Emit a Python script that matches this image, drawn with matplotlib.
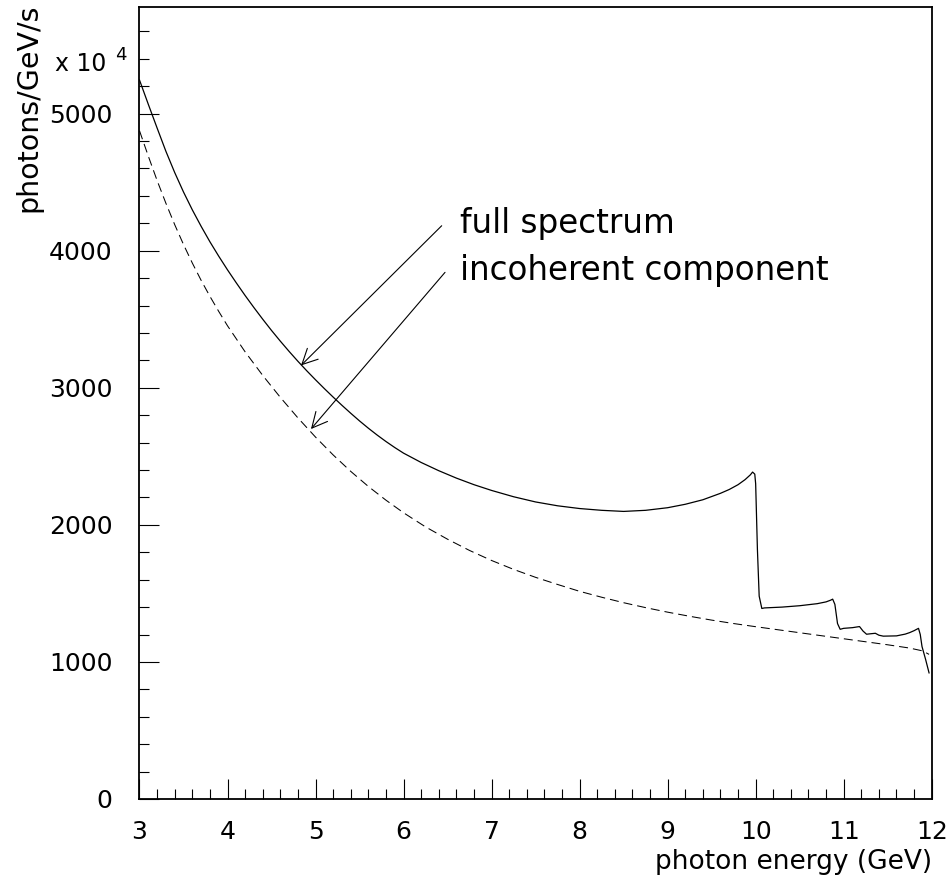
import numpy as np
import matplotlib
matplotlib.use("Agg")
import matplotlib.pyplot as plt
from matplotlib.ticker import MultipleLocator

# ---- data ----
full_x = [3.00, 3.10, 3.20, 3.30, 3.40, 3.50, 3.60, 3.70, 3.80, 3.90, 4.00, 4.10, 4.20, 4.30,
          4.40, 4.50, 4.60, 4.70, 4.80, 4.90, 5.00, 5.10, 5.20, 5.30, 5.40, 5.50, 5.60, 5.70,
          5.80, 5.90, 6.00, 6.20, 6.40, 6.60, 6.80, 7.00, 7.25, 7.50, 7.75, 8.00, 8.25, 8.50,
          8.75, 9.00, 9.20, 9.40, 9.60, 9.70, 9.80, 9.88, 9.94, 9.965,
          9.99, 10.00, 10.02, 10.04, 10.07, 10.10, 10.30, 10.50, 10.70, 10.80, 10.85, 10.875,
          10.90, 10.93, 10.96, 11.00, 11.10, 11.18, 11.22, 11.26, 11.30, 11.36, 11.40, 11.45,
          11.60, 11.70, 11.75, 11.80, 11.85, 11.87, 11.89, 11.93, 11.97]
full_y = [5245, 5068, 4895, 4725, 4570, 4428, 4298, 4178, 4065, 3960, 3860, 3765, 3673, 3585,
          3500, 3418, 3340, 3265, 3193, 3124, 3058, 2994, 2932, 2872, 2814, 2758, 2705, 2655,
          2608, 2564, 2523, 2455, 2395, 2341, 2293, 2251, 2205, 2167, 2139, 2119, 2106, 2098,
          2106, 2125, 2150, 2183, 2230, 2258, 2293, 2330, 2365, 2385,
          2370, 2300, 1820, 1480, 1390, 1394, 1400, 1410, 1425, 1438, 1450, 1458,
          1420, 1280, 1238, 1245, 1250, 1258, 1225, 1202, 1205, 1209, 1195, 1188,
          1190, 1203, 1214, 1228, 1245, 1200, 1112, 1020, 920]

inc_x = [3.00, 3.10, 3.20, 3.30, 3.40, 3.50, 3.60, 3.70, 3.80, 3.90, 4.00, 4.20, 4.40, 4.60,
         4.80, 5.00, 5.20, 5.40, 5.60, 5.80, 6.00, 6.25, 6.50, 6.75, 7.00, 7.25, 7.50, 7.75,
         8.00, 8.25, 8.50, 8.75, 9.00, 9.25, 9.50, 9.75, 10.00, 10.25, 10.50, 10.75, 11.00,
         11.25, 11.50, 11.75, 11.90, 11.97]
inc_y = [4875, 4690, 4512, 4346, 4190, 4045, 3910, 3784, 3667, 3557, 3452, 3262, 3090, 2930,
         2780, 2640, 2510, 2390, 2280, 2180, 2088, 1985, 1895, 1813, 1740, 1675, 1617, 1565,
         1515, 1472, 1432, 1396, 1363, 1333, 1305, 1280, 1257, 1235, 1213, 1191, 1169,
         1147, 1125, 1101, 1080, 1055]

x_ticks = [3, 4, 5, 6, 7, 8, 9, 10, 11, 12]
y_ticks = [0, 1000, 2000, 3000, 4000, 5000]

W, H = 953, 882
fig = plt.figure(figsize=(W / 100, H / 100), dpi=100)
L, R, B, T = 139.5, 931.7, 799.0, 6.7
ax = fig.add_axes([L / W, 1 - B / H, (R - L) / W, (B - T) / H])

ax.plot(full_x, full_y, color="black", lw=0.9, solid_joinstyle="round")
ax.plot(inc_x, inc_y, color="black", lw=0.75, dashes=(8.6, 4.8))

ax.set_xlim(3, 12)
ax.set_ylim(0, 5780)
ax.set_xticks(x_ticks)
ax.set_xticklabels([str(t) for t in x_ticks])
ax.set_yticks(y_ticks)
ax.set_yticklabels([str(t) for t in y_ticks])
ax.xaxis.set_minor_locator(MultipleLocator(0.2))
ax.yaxis.set_minor_locator(MultipleLocator(200))

for s in ax.spines.values():
    s.set_linewidth(1.3)

ax.tick_params(axis="both", which="both", direction="in", top=False, right=False,
               width=0.8, colors="black")
ax.tick_params(axis="both", which="major", length=14.4, labelsize=18)
ax.tick_params(axis="both", which="minor", length=7.2)
ax.tick_params(axis="y", which="major", pad=19.5)
ax.tick_params(axis="x", which="major", pad=15)

def fx(px):
    return px / W

def fy(py):
    return 1 - py / H

fig.text(fx(932), fy(869), "photon energy (GeV)", ha="right", va="baseline", fontsize=19)
fig.text(fx(28), fy(4), "photons/GeV/s", rotation=90, ha="center", va="top", fontsize=20.5)
fig.text(fx(55), fy(71), "x 10", ha="left", va="baseline", fontsize=17)
fig.text(fx(115), fy(60), "4", ha="left", va="baseline", fontsize=13)

# annotations (data coordinates)
ax.text(6.641, 4131, "full spectrum", fontsize=23.5, ha="left", va="baseline")
ax.text(6.641, 3788, "incoherent component", fontsize=23.5, ha="left", va="baseline")
aprops = dict(arrowstyle="->,head_length=1.1,head_width=0.55", lw=0.8, color="black",
              shrinkA=0, shrinkB=0, mutation_scale=10)
ax.annotate("", xy=(4.835, 3163), xytext=(6.433, 4182), arrowprops=aprops)
ax.annotate("", xy=(4.948, 2699), xytext=(6.471, 3842), arrowprops=aprops)

fig.savefig("out.png", dpi=100, facecolor="white")
